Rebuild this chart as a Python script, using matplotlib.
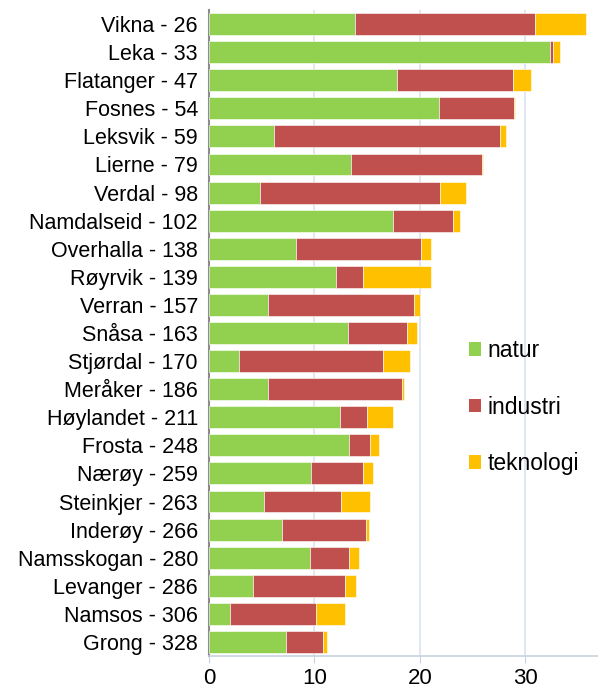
import matplotlib
matplotlib.use("Agg")
import matplotlib.pyplot as plt
from matplotlib.patches import Patch

plt.rcParams['font.family'] = ['Liberation Sans', 'DejaVu Sans']

categories = ["Vikna - 26", "Leka - 33", "Flatanger - 47", "Fosnes - 54", "Leksvik - 59",
              "Lierne - 79", "Verdal - 98", "Namdalseid - 102", "Overhalla - 138",
              "Røyrvik - 139", "Verran - 157", "Snåsa - 163", "Stjørdal - 170",
              "Meråker - 186", "Høylandet - 211", "Frosta - 248", "Nærøy - 259",
              "Steinkjer - 263", "Inderøy - 266", "Namsskogan - 280", "Levanger - 286",
              "Namsos - 306", "Grong - 328"]
natur = [13.85, 32.3, 17.8, 21.8, 6.2, 13.45, 4.8, 17.5, 8.25, 12.05, 5.6, 13.2, 2.85,
         5.6, 12.45, 13.3, 9.7, 5.25, 6.9, 9.6, 4.2, 2.0, 7.35]
industri = [17.05, 0.35, 11.05, 7.15, 21.4, 12.4, 17.1, 5.6, 11.9, 2.6, 13.8, 5.6, 13.7,
            12.75, 2.5, 1.95, 4.9, 7.3, 7.95, 3.7, 8.7, 8.15, 3.5]
teknologi = [4.85, 0.66, 1.7, 0.05, 0.6, 0.15, 2.5, 0.7, 0.9, 6.4, 0.63, 0.9, 2.55,
             0.15, 2.55, 0.85, 1.0, 2.7, 0.35, 0.95, 1.0, 2.75, 0.35]
series_names = ["natur", "industri", "teknologi"]
colors = ["#92d050", "#c0504d", "#ffc000"]
xticks = [0, 10, 20, 30]

fig = plt.figure(figsize=(5.98, 6.90), dpi=100)
ax = fig.add_axes([209/598, 34/690, 1 - 209/598, 646/690])

y = list(range(len(categories)))
left = [0.0] * len(categories)
handles = []
for vals, name, c in zip([natur, industri, teknologi], series_names, colors):
    ax.barh(y, vals, left=left, height=0.78, color=c, edgecolor='white', linewidth=0.4, zorder=3)
    left = [l + v for l, v in zip(left, vals)]
    handles.append(Patch(facecolor=c, edgecolor='none', label=name))

ax.set_ylim(len(categories) - 0.5, -0.5)
ax.set_xlim(0, 36.9)
ax.set_yticks(y)
ax.set_yticklabels(categories, fontsize=15.5)
ax.set_xticks(xticks)
ax.set_xticklabels([str(t) for t in xticks], fontsize=16)
ax.tick_params(axis='y', length=0, pad=8)
ax.tick_params(axis='x', length=5, color='#c8d2e0', pad=4)
ax.grid(axis='x', color='#dbe3ee', linewidth=1.2, zorder=0)
for s in ['top', 'right']:
    ax.spines[s].set_visible(False)
ax.spines['left'].set_color('#8c8c8c')
ax.spines['left'].set_linewidth(1.5)
ax.spines['bottom'].set_color('#c8d2e0')
ax.spines['bottom'].set_linewidth(1.2)

leg = ax.legend(handles=handles, loc='upper left', bbox_to_anchor=(0.668, 0.49),
                frameon=False, fontsize=16.5, handlelength=0.55, handleheight=0.55,
                handletextpad=0.25, labelspacing=1.45, borderpad=0, borderaxespad=0)

fig.savefig("out.png", dpi=100)
